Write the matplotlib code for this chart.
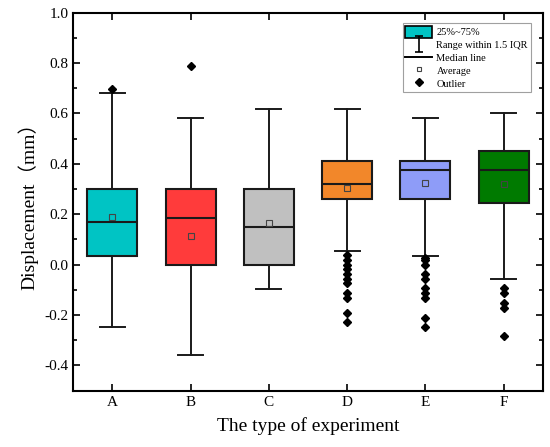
import numpy as np
import matplotlib
matplotlib.use("Agg")
import matplotlib.pyplot as plt
from matplotlib.path import Path
from matplotlib.patches import Patch
from matplotlib.lines import Line2D

plt.rcParams["font.family"] = ["Liberation Serif", "Noto Sans CJK SC"]

# data
groups = ["A", "B", "C", "D", "E", "F"]
q1 = [0.036, 0.000, 0.000, 0.262, 0.262, 0.244]
med = [0.168, 0.186, 0.148, 0.319, 0.376, 0.376]
q3 = [0.301, 0.301, 0.301, 0.413, 0.413, 0.451]
mean = [0.188, 0.114, 0.166, 0.305, 0.325, 0.321]
whislo = [-0.247, -0.359, -0.097, 0.056, 0.036, -0.058]
whishi = [0.679, 0.583, 0.619, 0.619, 0.583, 0.602]
fliers = [
    [0.695],
    [0.789],
    [],
    [0.039, 0.019, 0.0, -0.019, -0.037, -0.057, -0.074, -0.113, -0.132, -0.19, -0.227],
    [0.028, 0.019, 0.0, -0.037, -0.057, -0.094, -0.113, -0.132, -0.21, -0.247],
    [-0.094, -0.113, -0.152, -0.171, -0.285],
]
colors = ["#00C4C4", "#FF3B3B", "#C0C0C0", "#F2872A", "#8E9CF8", "#007A00"]

stats = []
for i, g in enumerate(groups):
    stats.append(dict(label=g, q1=q1[i], med=med[i], q3=q3[i], mean=mean[i],
                      whislo=whislo[i], whishi=whishi[i],
                      fliers=np.array(fliers[i])))

fig = plt.figure(figsize=(5.5, 4.47), dpi=100)
ax = fig.add_axes([0.133, 0.126, 0.854, 0.846])

pos = np.arange(1, len(groups) + 1)
bp = ax.bxp(stats, positions=pos, widths=0.64, capwidths=0.32,
            showmeans=True, patch_artist=True,
            boxprops=dict(edgecolor="#1a1a1a", linewidth=1.5),
            medianprops=dict(color="#1a1a1a", linewidth=1.5),
            whiskerprops=dict(color="#1a1a1a", linewidth=1.4),
            capprops=dict(color="#1a1a1a", linewidth=1.4),
            meanprops=dict(marker="s", markersize=4, markerfacecolor="none",
                           markeredgecolor="#444444", markeredgewidth=0.8),
            flierprops=dict(marker="D", markersize=4.5, markerfacecolor="black",
                            markeredgecolor="black"))
for b, c in zip(bp["boxes"], colors):
    b.set_facecolor(c)

ax.set_xlim(0.5, 6.5)
ax.set_ylim(-0.5, 1.0)
ax.set_xticks(pos)
ax.set_xticklabels(groups)
ax.set_yticks(np.arange(-0.4, 1.01, 0.2))
ax.set_yticklabels([f"{v:.1f}" for v in np.arange(-0.4, 1.01, 0.2)])
ax.set_yticks(np.arange(-0.5, 1.01, 0.1), minor=True)
ax.tick_params(axis="both", which="both", direction="in",
               top=True, right=True, labelsize=11, width=1.2)
ax.tick_params(axis="both", which="major", length=5)
ax.tick_params(axis="y", which="minor", length=3)
ax.tick_params(axis="x", which="minor", bottom=False, top=False)
for s in ax.spines.values():
    s.set_linewidth(1.5)

ax.set_xlabel("The type of experiment", fontsize=14, labelpad=6)
ax.set_ylabel("Displacement（mm）", fontsize=14, labelpad=4)

whisk = Path([(-0.5, 1), (0.5, 1), (0, 1), (0, -1), (-0.5, -1), (0.5, -1)],
             [Path.MOVETO, Path.LINETO, Path.MOVETO, Path.LINETO,
              Path.MOVETO, Path.LINETO])
handles = [
    Patch(facecolor=colors[0], edgecolor="black", linewidth=1.2),
    Line2D([], [], linestyle="none", marker=whisk, markersize=11,
           markeredgecolor="black", markeredgewidth=1.2),
    Line2D([], [], color="black", linewidth=1.4),
    Line2D([], [], linestyle="none", marker="s", markersize=3.5,
           markerfacecolor="none", markeredgecolor="#444444", markeredgewidth=0.8),
    Line2D([], [], linestyle="none", marker="D", markersize=4.2,
           markerfacecolor="black", markeredgecolor="black"),
]
labels = ["25%~75%", "Range within 1.5 IQR", "Median line", "Average", "Outlier"]
leg = ax.legend(handles, labels, loc="upper right", fontsize=7.5,
                frameon=True, fancybox=False, edgecolor="#888888",
                borderpad=0.25, labelspacing=0.12, handlelength=2.6,
                handleheight=1.35, handletextpad=0.4,
                bbox_to_anchor=(0.985, 0.985))
leg.get_frame().set_linewidth(0.8)

fig.savefig("out.png", dpi=100)
